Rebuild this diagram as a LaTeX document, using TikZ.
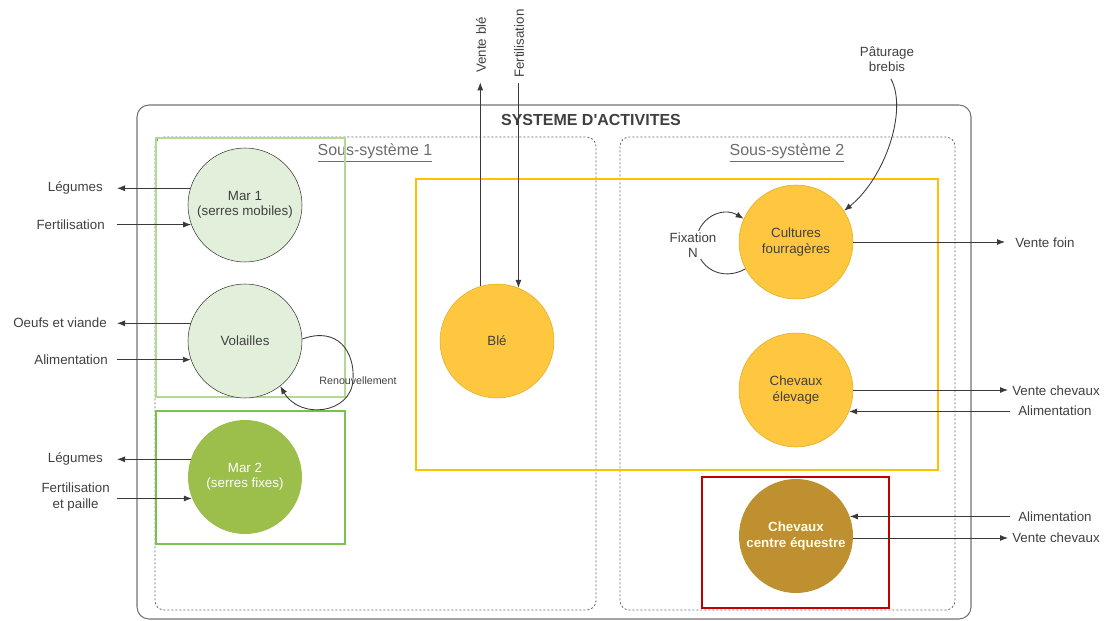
\documentclass[tikz,border=0pt]{standalone}
\usepackage{fontspec}
\setmainfont{Liberation Sans}
\usetikzlibrary{arrows.meta}

\definecolor{textgray}{HTML}{404040}
\definecolor{linegray}{HTML}{3A3A3A}
\definecolor{vertpale}{HTML}{B3DA93}
\definecolor{vertvif}{HTML}{7CC150}
\definecolor{fondmar}{HTML}{E2EFDA}
\definecolor{fondmardeux}{HTML}{9CBE4B}
\definecolor{jaunecadre}{HTML}{FFC000}
\definecolor{fondjaune}{HTML}{FFC73F}
\definecolor{bordjaune}{HTML}{E0AC20}
\definecolor{fondequestre}{HTML}{BF9030}
\definecolor{rougecadre}{HTML}{C00000}

\begin{document}
\begin{tikzpicture}[x=0.75pt, y=-0.75pt, font=\fontsize{10}{11.5}\selectfont, text=textgray,
    flux/.style={draw=linegray, line width=0.65pt, -{Latex[length=6pt,width=4.5pt]}},
    lab/.style={inner sep=0pt, align=center},
    atelier/.style={circle, minimum size=85.5pt, inner sep=1pt, align=center},
    sousys/.style={draw=gray!80!black, line width=0.6pt, dash pattern=on 1.5pt off 1.5pt, rounded corners=7pt},
    cadre/.style={line width=2.2pt}]
\useasboundingbox (0,0) rectangle (1107,621);

\draw[draw=gray!90!black, line width=0.8pt, rounded corners=9pt] (137,105) rectangle (971,619);
\draw[sousys] (155,137) rectangle (596,610);
\draw[sousys] (620,137) rectangle (955,610);
\node[font=\bfseries\fontsize{12}{14}\selectfont] (titre) at (591,120) {SYSTEME D\textquotesingle ACTIVITES};
\node[font=\fontsize{12}{14}\selectfont, text=gray!85!black] (ss1) at (375,153) {\underline{Sous-système 1}};
\node[font=\fontsize{12}{14}\selectfont, text=gray!85!black] (ss2) at (787,153) {\underline{Sous-système 2}};

\draw[cadre, vertpale] (156,138) rectangle (345,397);
\draw[cadre, vertvif] (156,411) rectangle (345,544);
\draw[cadre, jaunecadre] (416,179) rectangle (938,470);
\draw[cadre, rougecadre] (702,477) rectangle (889,608);

\node[atelier, draw=linegray, fill=fondmar] (mar1) at (245,205) {Mar 1\\(serres mobiles)};
\node[atelier, draw=linegray, fill=fondmar] (vol) at (245,341) {Volailles};
\node[atelier, fill=fondmardeux, text=white] (mar2) at (245,477) {Mar 2\\(serres fixes)};
\node[atelier, draw=bordjaune, fill=fondjaune] (ble) at (497,341) {Blé};
\node[atelier, draw=bordjaune, fill=fondjaune] (cf) at (796,242) {Cultures\\fourragères};
\node[atelier, draw=bordjaune, fill=fondjaune] (che) at (796,390) {Chevaux\\élevage};
\node[atelier, fill=fondequestre, text=white!90!yellow, font=\bfseries\fontsize{10}{11.5}\selectfont] (ceq) at (796,536) {Chevaux\\centre équestre};

\node[lab, anchor=east] (leg1) at (103,188) {Légumes};
\node[lab, anchor=east] (fert1) at (105,225) {Fertilisation};
\node[lab, anchor=east] (oeuf) at (107,323) {Oeufs et viande};
\node[lab, anchor=east] (alim1) at (108,360) {Alimentation};
\node[lab, anchor=east] (leg2) at (103,459) {Légumes};
\node[lab, anchor=east] (fert2) at (110,497) {Fertilisation\\et paille};
\node[lab, rotate=90, anchor=west] (venteble) at (481,73) {Vente blé};
\node[lab, rotate=90, anchor=west] (fertble) at (519,78) {Fertilisation};
\node[lab] (pat) at (887,59) {Pâturage\\brebis};
\node[lab, anchor=west] (foin) at (1015,243) {Vente foin};
\node[lab, anchor=west] (vch1) at (1012,391) {Vente chevaux};
\node[lab, anchor=west] (alim2) at (1018,411) {Alimentation};
\node[lab, anchor=west] (alim3) at (1018,517) {Alimentation};
\node[lab, anchor=west] (vch2) at (1012,538) {Vente chevaux};

\draw[flux, shorten >=10.5pt] (mar1.163) -- (mar1.163 -| leg1.east);
\draw[flux, shorten <=9pt] (fert1.east |- mar1.200) -- (mar1.200);
\draw[flux, shorten >=7.5pt] (vol.162) -- (vol.162 -| oeuf.east);
\draw[flux, shorten <=7pt] (alim1.east |- vol.199) -- (vol.199);
\draw[flux, shorten >=10.5pt] (mar2.162) -- (mar2.162 -| leg2.east);
\draw[flux, shorten <=5pt] (fert2.east |- mar2.202) -- (mar2.202);
\draw[flux, shorten >=7pt] (ble.107) -- (ble.107 |- venteble.west);
\draw[flux, shorten <=4pt] (ble.68 |- fertble.west) -- (ble.68);
\draw[flux, shorten >=7.5pt] (cf.east) -- (cf.east -| foin.west);
\draw[flux, shorten >=3pt] (che.0) -- (che.0 -| vch1.west);
\draw[flux, shorten <=6pt] (alim2.west |- che.338) -- (che.338);
\draw[flux, shorten <=6pt] (alim3.west |- ceq.20) -- (ceq.20);
\draw[flux, shorten >=3pt] (ceq.358) -- (ceq.358 -| vch2.west);

\draw[flux, shorten <=6pt] (pat.south) .. controls (908,110) and (885,178) .. (cf.33);
\draw[flux] (cf.208) .. controls (722,282) and (697,268) .. (696,243) .. controls (697,218) and (722,206) .. (cf.156);
\node[lab, fill=white, inner sep=1pt] (fix) at (693,245) {Fixation\\N};
\draw[flux] (vol.2) .. controls (338,326) and (355,352) .. (353,380) .. controls (351,414) and (300,420) .. (vol.308);
\node[lab, font=\fontsize{8}{9}\selectfont] (renouv) at (358,381) {Renouvellement};
\end{tikzpicture}
\end{document}
